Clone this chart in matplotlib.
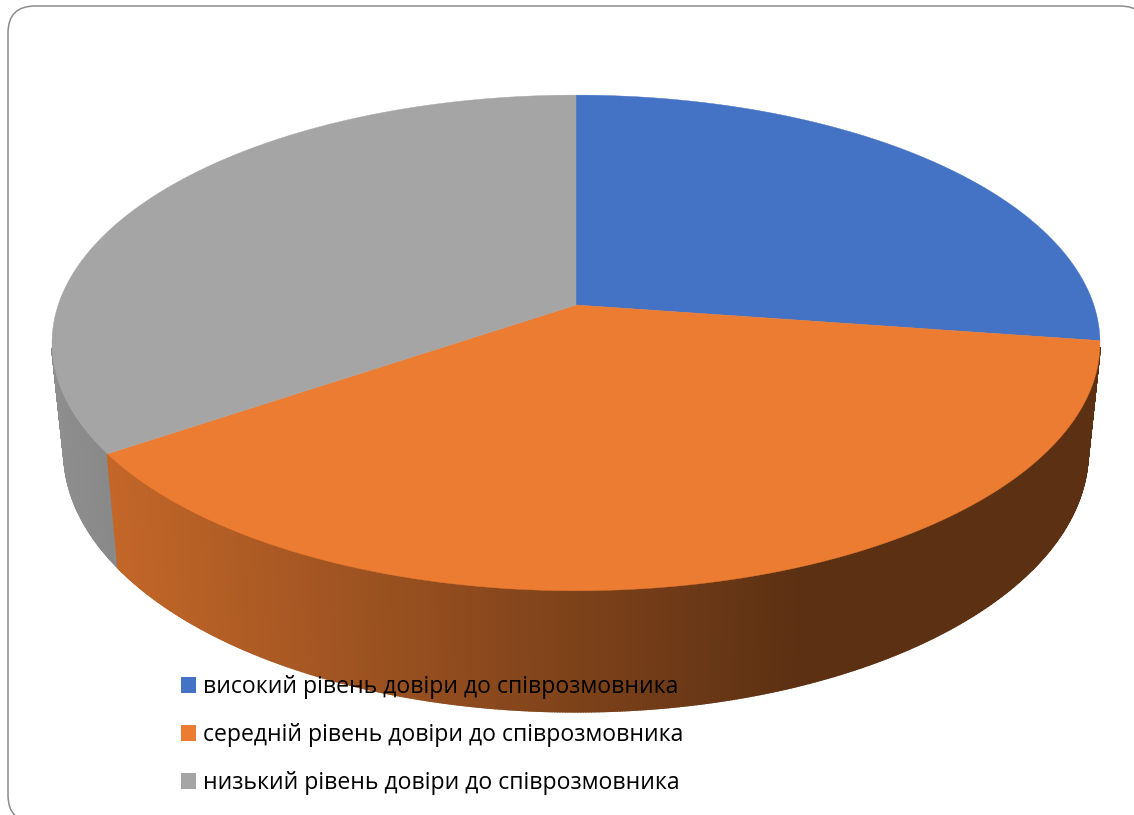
import numpy as np
import matplotlib
matplotlib.use('Agg')
import matplotlib.pyplot as plt
from matplotlib.patches import FancyBboxPatch, Patch

labels = ['високий рівень довіри до співрозмовника',
          'середній рівень довіри до співрозмовника',
          'низький рівень довіри до співрозмовника']
values = [27.3, 38.2, 34.5]
colors = ['#4472C4', '#EC7C31', '#A5A5A5']

W, H = 1134, 815

# perspective of the top and bottom disc, in pixels
CX = 576
K = 0.153
TOP = dict(y0=305, r=517.8, s=242.0)
BOTTOM = dict(y0=412, r=506.0, s=253.9)


def project(theta, disc, radius=1.0):
    # theta is clockwise from 12 o'clock
    u = radius * np.sin(theta)
    v = radius * np.cos(theta)
    w = 1 + K * v
    return CX + disc['r'] * u / w, disc['y0'] - disc['s'] * v / w


def shade(color, x):
    # side wall gets darker from left to right
    f = np.clip(0.82 - (x - 120) * 0.43 / 680, 0.39, 0.9)
    return tuple(np.array(matplotlib.colors.to_rgb(color)) * f)


fig = plt.figure(figsize=(W / 100, H / 100), dpi=100)
ax = fig.add_axes([0, 0, 1, 1])
ax.set_xlim(0, W)
ax.set_ylim(H, 0)
ax.axis('off')

ax.add_patch(FancyBboxPatch((35, 33), 1085, 762, boxstyle='round,pad=27,rounding_size=27',
                            fc='white', ec='#8c8c8c', lw=1.1, zorder=0))

edges = np.radians(np.concatenate([[0], np.cumsum(values)]) / np.sum(values) * 360)

# side wall, back to front (the back part is hidden by the top face anyway)
quads = []
for i in range(len(values)):
    n = max(2, int((edges[i + 1] - edges[i]) / np.radians(0.25)))
    t = np.linspace(edges[i], edges[i + 1], n + 1)
    for a, b in zip(t[:-1], t[1:]):
        if np.cos((a + b) / 2) < -0.17:
            quads.append((np.cos((a + b) / 2), a, b, colors[i]))
quads.sort(key=lambda q: -q[0])
for _, a, b, c in quads:
    x1, y1 = project(a, TOP)
    x2, y2 = project(b, TOP)
    x3, y3 = project(b, BOTTOM)
    x4, y4 = project(a, BOTTOM)
    col = shade(c, (x1 + x2) / 2)
    ax.fill([x1, x2, x3, x4], [y1, y2, y3, y4], fc=col, ec=col, lw=1.2, zorder=2)

# top face
for i in range(len(values)):
    t = np.linspace(edges[i], edges[i + 1], 300)
    x, y = project(t, TOP)
    ax.fill(np.r_[CX, x], np.r_[TOP['y0'], y], fc=colors[i], ec=colors[i], lw=0.3, zorder=3)

handles = [Patch(fc=c, ec='none') for c in colors]
ax.legend(handles, labels, loc='upper left', bbox_to_anchor=(181 / W, 1 - 675 / H),
          frameon=False, prop={'family': 'Open Sans', 'size': 16.6}, labelcolor='black',
          handlelength=0.65, handleheight=0.65, handletextpad=0.29,
          labelspacing=1.04, borderpad=0, borderaxespad=0)

fig.savefig('out.png', dpi=100)
